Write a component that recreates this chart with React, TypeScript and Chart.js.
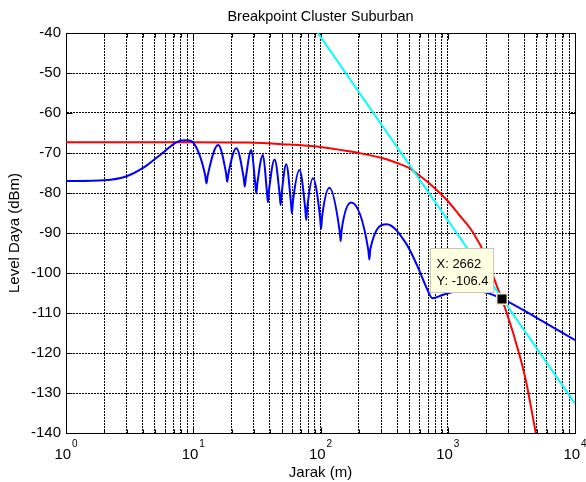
import React, { useEffect, useRef } from 'react';
import { Chart, registerables } from 'chart.js';

Chart.register(...registerables);

const TITLE = 'Breakpoint Cluster Suburban';
const X_TITLE = 'Jarak (m)';
const Y_TITLE = 'Level Daya (dBm)';

const X_MIN = 1;
const X_MAX = 10000;
const Y_MIN = -140;
const Y_MAX = -40;
const Y_STEP = 10;

// decade tick labels: base "10" with exponent
const X_DECADES = [1, 10, 100, 1000, 10000];
const X_EXPONENTS = ['0', '1', '2', '3', '4'];
const X_MINOR_MULT = [1, 2, 3, 4, 5, 6, 7, 8, 9];

// blue: received level (two-ray interference)
const blueX = [1, 2, 3, 4, 5, 6, 7, 8, 9, 10,
  12.4, 12.7, 13.0, 15.7, 18.1, 18.5, 18.9, 21.8, 24.9, 25.4, 25.9, 28.6,
  30.7, 31.3, 31.9, 35.3, 37.9, 38.6, 39.3, 43.6, 47.7, 48.6, 49.5, 53.8,
  58.5, 59.6, 60.7, 68.4, 75.8, 77.2, 78.6, 87.1, 99.2, 101, 102.9, 117.6,
  141.4, 144, 146.7, 174, 237.7, 242, 246.4, 331, 470, 580, 675, 760, 912,
  1300, 1995, 2662, 5000, 10000];
const blueY = [-77, -76.8, -75.8, -73.8, -71.5, -69.5, -67.8, -66.9, -66.8, -67.4,
  -75.5, -77.6, -75.6, -68, -75.0, -77.2, -75.2, -68.8, -76.2, -78.4, -76.2, -69.25,
  -77.6, -80.1, -77.6, -70.5, -79.6, -82.3, -79.6, -71.6, -80.2, -83, -80.2, -72.8,
  -82.2, -85.1, -82.2, -74.25, -83.8, -86.75, -83.8, -76.3, -86, -89, -86, -78.7,
  -89.5, -92, -89.2, -82.4, -94.3, -96.6, -94.0, -87.8, -92.6, -98.4, -103.4, -106.3, -105.5,
  -104.3, -104.9, -106.4, -111.2, -116.8];

// red: breakpoint model
const redX = [1, 10, 27, 50, 100, 154, 200, 300, 400, 500, 580, 760, 1000, 1230, 1566, 1994, 2388, 2860, 3637, 4106, 4919];
const redY = [-67.3, -67.3, -67.4, -67.8, -68.5, -69.4, -70.0, -71.2, -72.5, -73.8, -75.3, -78.3, -82.0, -85.5, -89.7, -95.9, -102.6, -109.3, -120.1, -126.8, -140];

// cyan: plane-earth asymptote
const cyanX = [95.3, 10000];
const cyanY = [-40, -132.6];

// data tip
const TIP_X = 2662;
const TIP_Y = -106.4;

const FONT = "'Liberation Sans', Arial, sans-serif";

const toPts = (xs: number[], ys: number[]) => xs.map((x, i) => ({ x, y: ys[i] }));

const framePlugin = {
  id: 'frame',
  beforeDatasetsDraw(chart: any) {
    const { ctx, chartArea: a } = chart;
    const xs = chart.scales.x;
    const ys = chart.scales.y;
    const L = Math.round(a.left) + 0.5;
    const R = Math.round(a.right) + 0.5;
    const T = Math.round(a.top) + 0.5;
    const B = Math.round(a.bottom) + 0.5;
    ctx.save();
    ctx.strokeStyle = '#000';
    ctx.lineWidth = 1;
    ctx.beginPath();
    xs.ticks.forEach((t: any) => {
      const px = Math.round(xs.getPixelForValue(t.value)) + 0.5;
      const len = X_DECADES.includes(t.value) ? 6 : 4;
      ctx.moveTo(px, B); ctx.lineTo(px, B - len);
      ctx.moveTo(px, T); ctx.lineTo(px, T + len);
    });
    ys.ticks.forEach((t: any) => {
      const py = Math.round(ys.getPixelForValue(t.value)) + 0.5;
      ctx.moveTo(L, py); ctx.lineTo(L + 6, py);
      ctx.moveTo(R, py); ctx.lineTo(R - 6, py);
    });
    ctx.stroke();
    ctx.strokeRect(L, T, R - L, B - T);
    ctx.restore();
  },
};

const textPlugin = {
  id: 'texts',
  afterDraw(chart: any) {
    const { ctx, chartArea: a } = chart;
    const xs = chart.scales.x;
    ctx.save();
    ctx.fillStyle = '#000';
    // title centred over the plot area
    ctx.font = `14.5px ${FONT}`;
    ctx.textAlign = 'center';
    ctx.textBaseline = 'alphabetic';
    ctx.fillText(TITLE, (a.left + a.right) / 2, 20.5);
    // decade labels 10^n
    ctx.textAlign = 'left';
    X_DECADES.forEach((d, i) => {
      const px = xs.getPixelForValue(d);
      ctx.font = `15px ${FONT}`;
      const wBase = ctx.measureText('10').width;
      ctx.font = `10px ${FONT}`;
      const wExp = ctx.measureText(X_EXPONENTS[i]).width;
      const total = wBase + 1 + wExp;
      const x0 = px - total / 2;
      ctx.font = `15px ${FONT}`;
      ctx.fillText('10', x0, 459);
      ctx.font = `10px ${FONT}`;
      ctx.fillText(X_EXPONENTS[i], x0 + wBase + 1, 446.5);
    });
    ctx.restore();
  },
};

const dataTipPlugin = {
  id: 'dataTip',
  afterDatasetsDraw(chart: any) {
    const { ctx } = chart;
    const px = chart.scales.x.getPixelForValue(TIP_X);
    const py = chart.scales.y.getPixelForValue(TIP_Y);
    const left = Math.round(px - 72) + 0.5;
    const right = Math.round(px - 9) + 0.5;
    const top = Math.round(py - 50.5) + 0.5;
    const bottom = Math.round(py - 7) + 0.5;
    ctx.save();
    ctx.fillStyle = '#ffffe1';
    ctx.strokeStyle = '#c8c8b4';
    ctx.lineWidth = 1;
    ctx.fillRect(left, top, right - left, bottom - top);
    ctx.strokeRect(left, top, right - left, bottom - top);
    ctx.fillStyle = '#000';
    ctx.font = `13px ${FONT}`;
    ctx.textAlign = 'left';
    ctx.textBaseline = 'alphabetic';
    ctx.fillText(`X: ${TIP_X}`, left + 6, py - 30.3);
    ctx.fillText(`Y: ${TIP_Y}`, left + 6, py - 13.6);
    // marker
    const s = 5;
    ctx.fillStyle = '#f2eecf';
    ctx.fillRect(Math.round(px) - s - 1, Math.round(py) - s - 1, 2 * s + 2, 2 * s + 2);
    ctx.fillStyle = '#000';
    ctx.fillRect(Math.round(px) - s + 0.5, Math.round(py) - s + 0.5, 2 * s - 1, 2 * s - 1);
    ctx.restore();
  },
};

export default function App() {
  const ref = useRef<HTMLCanvasElement>(null);
  useEffect(() => {
    if (!ref.current) return;
    const xTicks: number[] = [];
    X_DECADES.slice(0, -1).forEach((d) => X_MINOR_MULT.forEach((m) => xTicks.push(d * m)));
    xTicks.push(X_DECADES[X_DECADES.length - 1]);

    const gridCommon = {
      color: '#000',
      lineWidth: 1,
      drawTicks: false,
    };
    const borderCommon = { display: true, color: '#000', width: 1, dash: [2, 1] };

    const chart = new Chart(ref.current, {
      type: 'line',
      data: {
        datasets: [
          {
            label: 'blue',
            data: toPts(blueX, blueY),
            borderColor: '#0000ff',
            borderWidth: 2,
            pointRadius: 0,
            cubicInterpolationMode: 'monotone',
            fill: false,
          },
          {
            label: 'cyan',
            data: toPts(cyanX, cyanY),
            borderColor: '#00ffff',
            borderWidth: 2,
            pointRadius: 0,
            tension: 0,
            fill: false,
          },
          {
            label: 'red',
            data: toPts(redX, redY),
            borderColor: '#ff0000',
            borderWidth: 2,
            pointRadius: 0,
            cubicInterpolationMode: 'monotone',
            fill: false,
          },
        ],
      },
      options: {
        responsive: false,
        animation: false,
        events: [],
        layout: { padding: { left: 0, right: 10, top: 33, bottom: 0 } },
        plugins: {
          legend: { display: false },
          tooltip: { enabled: false },
          title: { display: false },
        },
        scales: {
          x: {
            type: 'logarithmic',
            min: X_MIN,
            max: X_MAX,
            afterBuildTicks: (s: any) => {
              s.ticks = xTicks.map((v) => ({ value: v }));
            },
            afterFit: (s: any) => {
              s.height = 49;
            },
            ticks: {
              autoSkip: false,
              maxRotation: 0,
              padding: 11,
              callback: () => '',
            },
            grid: gridCommon,
            border: borderCommon,
            title: {
              display: true,
              text: X_TITLE,
              color: '#000',
              font: { family: FONT, size: 15, lineHeight: 1.2 },
              padding: { top: 0, bottom: 0 },
            },
          },
          y: {
            type: 'linear',
            min: Y_MIN,
            max: Y_MAX,
            afterFit: (s: any) => {
              s.width = 66;
            },
            ticks: {
              stepSize: Y_STEP,
              padding: 5,
              color: '#000',
              font: { family: FONT, size: 15 },
            },
            grid: gridCommon,
            border: borderCommon,
            title: {
              display: true,
              text: Y_TITLE,
              color: '#000',
              font: { family: FONT, size: 15, lineHeight: 1.2 },
              padding: { top: 6, bottom: 0 },
            },
          },
        },
      } as any,
      plugins: [framePlugin, dataTipPlugin, textPlugin],
    });
    return () => chart.destroy();
  }, []);
  return (
    <div style={{ position: 'absolute', left: 0, top: 0, width: 586, height: 482, background: '#fff' }}>
      <canvas ref={ref} width={586} height={482} style={{ display: 'block', width: 586, height: 482 }} />
    </div>
  );
}
